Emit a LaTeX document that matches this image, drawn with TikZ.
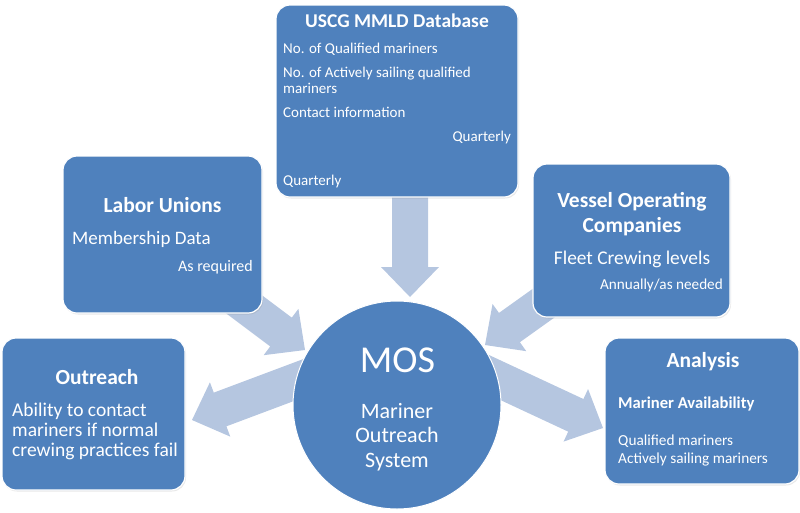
\documentclass[tikz,border=0pt]{standalone}
\usepackage{fontspec}
\setmainfont{Carlito}
\usetikzlibrary{calc,shadows}
\definecolor{boxblue}{RGB}{79,129,189}
\definecolor{arrowblue}{RGB}{181,198,224}
\newcommand\fsz[1]{\fontsize{#1}{#1}\selectfont}
\tikzset{
  box/.style={draw=white, line width=1.2pt, fill=boxblue, rounded corners=14pt, inner sep=0pt,
    drop shadow={opacity=0.18, shadow xshift=1pt, shadow yshift=-1.5pt}},
  hub/.style={circle, fill=boxblue, draw=white, line width=1pt, inner sep=0pt, minimum size=208pt},
  txt/.style={text=white, inner sep=0pt},
  arrowfill/.style={fill=arrowblue}
}
% block arrow: #1 prefix, #2 tail coordinate, #3 tip coordinate
\newcommand\blockarr[3]{%
  \coordinate (#1hb) at ($(#3)!30pt!(#2)$);
  \fill[arrowfill] ($(#2)!18pt!90:(#3)$) -- ($(#1hb)!18pt!90:(#3)$) -- ($(#1hb)!29pt!90:(#3)$)
    -- (#3) -- ($(#1hb)!29pt!-90:(#3)$) -- ($(#1hb)!18pt!-90:(#3)$) -- ($(#2)!18pt!-90:(#3)$) -- cycle;}
\begin{document}
\begin{tikzpicture}[x=1pt, y=-1pt]
\useasboundingbox (0,0) rectangle (800,512);

% arrows (drawn first, under boxes and hub)
\coordinate (dnT) at (410,185);   \coordinate (dnH) at (410,297);
\coordinate (luT) at (229,293);   \coordinate (luH) at (305,350);
\coordinate (voT) at (562,290);   \coordinate (voH) at (485,345);
\coordinate (orT) at (320,372);   \coordinate (orH) at (192,420);
\coordinate (anT) at (470,366);   \coordinate (anH) at (603,428);
\blockarr{dn}{dnT}{dnH}
\blockarr{lu}{luT}{luH}
\blockarr{vo}{voT}{voH}
\blockarr{or}{orT}{orH}
\blockarr{an}{anT}{anH}

% boxes
\node[box, minimum width=242pt, minimum height=192pt] (uscg) at (397,101) {};
\node[box, minimum width=199pt, minimum height=157pt] (labor) at (162.5,234.5) {};
\node[box, minimum width=197pt, minimum height=153pt] (vessel) at (631.5,240.5) {};
\node[box, minimum width=183pt, minimum height=152pt] (outreach) at (93.5,414) {};
\node[box, minimum width=194pt, minimum height=146pt] (analysis) at (702,411) {};
\node[hub] (mos) at (397,405) {};

% USCG text
\node[txt, font=\bfseries\fsz{19.5}, anchor=base] (uscgT) at (397,27) {USCG MMLD Database};
\node[txt, font=\fsz{15}, anchor=base west] (u1) at (283,53) {No. of Qualified mariners};
\node[txt, font=\fsz{15}, anchor=base west] (u2) at (283,77) {No. of Actively sailing qualified};
\node[txt, font=\fsz{15}, anchor=base west] (u3) at (283,93) {mariners};
\node[txt, font=\fsz{15}, anchor=base west] (u4) at (283,117) {Contact information};
\node[txt, font=\fsz{15}, anchor=base east] (u5) at (511,141) {Quarterly};
\node[txt, font=\fsz{15}, anchor=base west] (u6) at (283,185) {Quarterly};

% Labor Unions
\node[txt, font=\bfseries\fsz{21.5}, anchor=base] (laborT) at (162.5,212) {Labor Unions};
\node[txt, font=\fsz{19}, anchor=base west] (l1) at (72,244) {Membership Data};
\node[txt, font=\fsz{16}, anchor=base east] (l2) at (253,271) {As required};

% Vessel Operating Companies
\node[txt, font=\bfseries\fsz{21.5}, anchor=base] (vesselT1) at (632,207) {Vessel Operating};
\node[txt, font=\bfseries\fsz{21.5}, anchor=base] (vesselT2) at (632,232) {Companies};
\node[txt, font=\fsz{19.4}, anchor=base] (v1) at (632,264) {Fleet Crewing levels};
\node[txt, font=\fsz{15.2}, anchor=base east] (v2) at (723,289) {Annually/as needed};

% Outreach
\node[txt, font=\bfseries\fsz{21.5}, anchor=base] (outT) at (97,384) {Outreach};
\node[txt, font=\fsz{19.5}, anchor=base west] (o1) at (12,416.5) {Ability to contact};
\node[txt, font=\fsz{19.5}, anchor=base west] (o2) at (12,436) {mariners if normal};
\node[txt, font=\fsz{19.5}, anchor=base west] (o3) at (12,456) {crewing practices fail};

% Analysis
\node[txt, font=\bfseries\fsz{21.5}, anchor=base] (anT2) at (703,367) {Analysis};
\node[txt, font=\bfseries\fsz{16.6}, anchor=base west] (a1) at (618,408) {Mariner Availability};
\node[txt, font=\fsz{15.3}, anchor=base west] (a2) at (618,445) {Qualified mariners};
\node[txt, font=\fsz{15.3}, anchor=base west] (a3) at (618,463) {Actively sailing mariners};

% MOS
\node[txt, font=\fsz{38}, anchor=base] (mosT) at (397.5,372) {MOS};
\node[txt, font=\fsz{22}, anchor=base] (m1) at (397,418) {Mariner};
\node[txt, font=\fsz{22}, anchor=base] (m2) at (397,442) {Outreach};
\node[txt, font=\fsz{22}, anchor=base] (m3) at (397,467) {System};
\end{tikzpicture}
\end{document}
